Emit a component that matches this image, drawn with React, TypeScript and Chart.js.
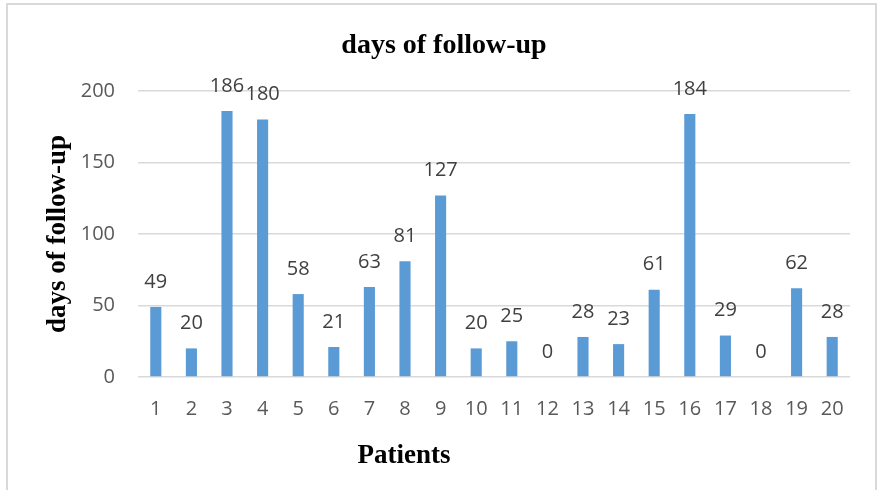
import { useEffect, useRef } from "react";
import { Chart, registerables } from "chart.js";

Chart.register(...registerables);

const categories = ["1", "2", "3", "4", "5", "6", "7", "8", "9", "10", "11", "12", "13", "14", "15", "16", "17", "18", "19", "20"];
const followUpDays = [49, 20, 186, 180, 58, 21, 63, 81, 127, 20, 25, 0, 28, 23, 61, 184, 29, 0, 62, 28];
const yMin = 0;
const yMax = 200;
const yStep = 50;
const chartTitle = "days of follow-up";
const yAxisTitle = "days of follow-up";
const xAxisTitle = "Patients";

const valueLabels = {
  id: "valueLabels",
  afterDatasetsDraw(chart: any) {
    const { ctx } = chart;
    const meta = chart.getDatasetMeta(0);
    const data = chart.data.datasets[0].data;
    ctx.save();
    ctx.font = "20px 'Open Sans'";
    ctx.fillStyle = "#404040";
    ctx.textAlign = "center";
    ctx.textBaseline = "middle";
    meta.data.forEach((bar: any, i: number) => {
      ctx.fillText(String(data[i]), bar.x, bar.y - 25);
    });
    ctx.restore();
  },
};

const titles = {
  id: "titles",
  afterDraw(chart: any) {
    const { ctx } = chart;
    ctx.save();
    ctx.fillStyle = "#000000";
    ctx.textAlign = "center";
    ctx.textBaseline = "alphabetic";
    ctx.font = "bold 28px 'Liberation Serif'";
    ctx.fillText(chartTitle, 444, 53);
    ctx.font = "bold 27px 'Liberation Serif'";
    ctx.fillText(xAxisTitle, 404, 463);
    ctx.restore();
  },
};

export default function App() {
  const canvasRef = useRef<HTMLCanvasElement | null>(null);

  useEffect(() => {
    const canvas = canvasRef.current;
    if (!canvas) return;
    const chart = new Chart(canvas, {
      type: "bar",
      data: {
        labels: categories,
        datasets: [
          {
            data: followUpDays,
            backgroundColor: "#5b9bd5",
            borderWidth: 0,
            barPercentage: 0.39,
            categoryPercentage: 0.8,
          },
        ],
      },
      options: {
        responsive: false,
        animation: false,
        devicePixelRatio: 1,
        layout: { padding: { top: 91, right: 31, bottom: 0, left: 0 } },
        plugins: {
          legend: { display: false },
          title: { display: false },
          tooltip: { enabled: false },
        },
        scales: {
          x: {
            grid: { display: false, drawTicks: false },
            border: { display: false },
            ticks: {
              font: { family: "'Open Sans'", size: 20 },
              color: "#595959",
              padding: 20,
              maxRotation: 0,
              autoSkip: false,
            },
            afterFit: (s: any) => {
              s.height = 113;
            },
          },
          y: {
            min: yMin,
            max: yMax,
            grid: { color: "#d9d9d9", lineWidth: 1.5, drawTicks: false },
            border: { display: false },
            ticks: {
              stepSize: yStep,
              font: { family: "'Open Sans'", size: 20 },
              color: "#595959",
              padding: 23,
            },
            title: {
              display: true,
              text: yAxisTitle,
              color: "#000000",
              font: { family: "'Liberation Serif'", size: 27, weight: "bold" },
              padding: { top: 42, bottom: 0 },
            },
            afterFit: (s: any) => {
              s.width = 138;
            },
          },
        },
      },
      plugins: [valueLabels, titles],
    });
    return () => chart.destroy();
  }, []);

  return (
    <div style={{ position: "fixed", left: 0, top: 0, width: 881, height: 490, background: "#ffffff", overflow: "hidden" }}>
      <div
        style={{
          position: "absolute",
          left: 6,
          top: 3,
          width: 871,
          height: 520,
          border: "2px solid #d9d9d9",
          boxSizing: "border-box",
        }}
      />
      <canvas
        ref={canvasRef}
        width={881}
        height={490}
        style={{ position: "absolute", left: 0, top: 0, width: 881, height: 490 }}
      />
    </div>
  );
}
